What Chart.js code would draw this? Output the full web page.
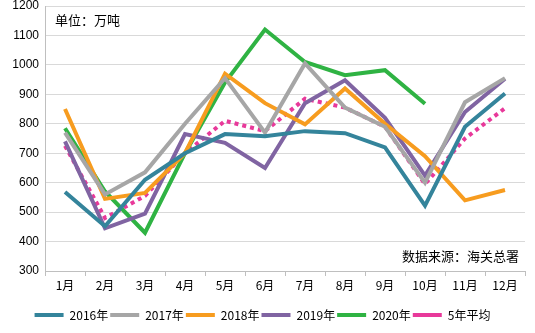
<!DOCTYPE html>
<html>
<head>
<meta charset="utf-8">
<script src="https://cdn.jsdelivr.net/npm/chart.js@4"></script>
<style>
  body { margin: 0; background: #fff; }
  #wrap { width: 535px; height: 333px; position: relative; }
</style>
</head>
<body>
<div id="wrap"><canvas id="chart"></canvas></div>
<script>
// data (万吨)
const months = ['1月', '2月', '3月', '4月', '5月', '6月', '7月', '8月', '9月', '10月', '11月', '12月'];
const y2016 = [568, 452, 610, 700, 765, 758, 775, 768, 720, 522, 790, 903];
const y2017 = [770, 560, 635, 800, 955, 770, 1005, 855, 790, 600, 873, 955];
const y2018 = [850, 545, 565, 700, 970, 870, 798, 920, 800, 690, 540, 575];
const y2019 = [740, 445, 495, 765, 735, 650, 870, 948, 820, 624, 840, 953];
const y2020 = [785, 570, 430, 700, 940, 1120, 1010, 965, 982, 868, null, null];
const avg5 = [725, 480, 555, 700, 810, 775, 885, 855, 790, 595, 750, 853];

const font = "'Liberation Sans', Arial, sans-serif";
const cjk = "'Noto Sans CJK SC', sans-serif";

function line(label, data, color, dash) {
    return {
        label: label,
        data: data,
        borderColor: color,
        backgroundColor: color,
        borderWidth: 4,
        borderDash: dash || [],
        pointRadius: 0,
        tension: 0,
        spanGaps: false
    };
}

// the two notes inside the plot
const notes = {
    id: 'notes',
    afterDraw(chart) {
        const ctx = chart.ctx;
        ctx.save();
        ctx.fillStyle = '#000';
        ctx.font = "13px " + cjk;
        ctx.textBaseline = 'middle';
        ctx.textAlign = 'left';
        ctx.fillText('单位：万吨', 55, 20);
        ctx.textAlign = 'right';
        ctx.fillText('数据来源：海关总署', 519, 256);
        ctx.restore();
    }
};

new Chart(document.getElementById('chart'), {
    type: 'line',
    data: {
        labels: months,
        datasets: [
            line('2016年', y2016, '#34849b'),
            line('2017年', y2017, '#a6a6a6'),
            line('2018年', y2018, '#f79c1f'),
            line('2019年', y2019, '#8064a2'),
            line('2020年', y2020, '#2fb343'),
            line('5年平均', avg5, '#e8399a', [4, 4])
        ]
    },
    options: {
        responsive: true,
        maintainAspectRatio: false,
        animation: false,
        layout: { padding: { top: 6, right: 10, left: 0, bottom: 2 } },
        plugins: {
            legend: {
                position: 'bottom',
                labels: {
                    usePointStyle: true,
                    pointStyle: 'line',
                    pointStyleWidth: 29,
                    boxHeight: 12,
                    padding: 2,
                    color: '#000',
                    font: { family: cjk, size: 12 }
                }
            },
            tooltip: { enabled: false }
        },
        scales: {
            x: {
                offset: true,
                afterFit: s => { s.height = 36; },
                grid: {
                    offset: true,
                    drawOnChartArea: false,
                    tickLength: 5,
                    color: '#bfbfbf'
                },
                border: { color: '#bfbfbf' },
                ticks: { color: '#000', font: { family: cjk, size: 12 }, padding: 2 }
            },
            y: {
                min: 300,
                max: 1200,
                afterFit: s => { s.width = 45; s.paddingTop = 0; s.paddingBottom = 0; },
                ticks: {
                    stepSize: 100,
                    color: '#000',
                    padding: 6,
                    font: { family: font, size: 12 },
                    callback: v => String(v)
                },
                grid: { color: '#d9d9d9', drawTicks: false },
                border: { color: '#bfbfbf' }
            }
        }
    },
    plugins: [notes]
});
</script>
</body>
</html>
